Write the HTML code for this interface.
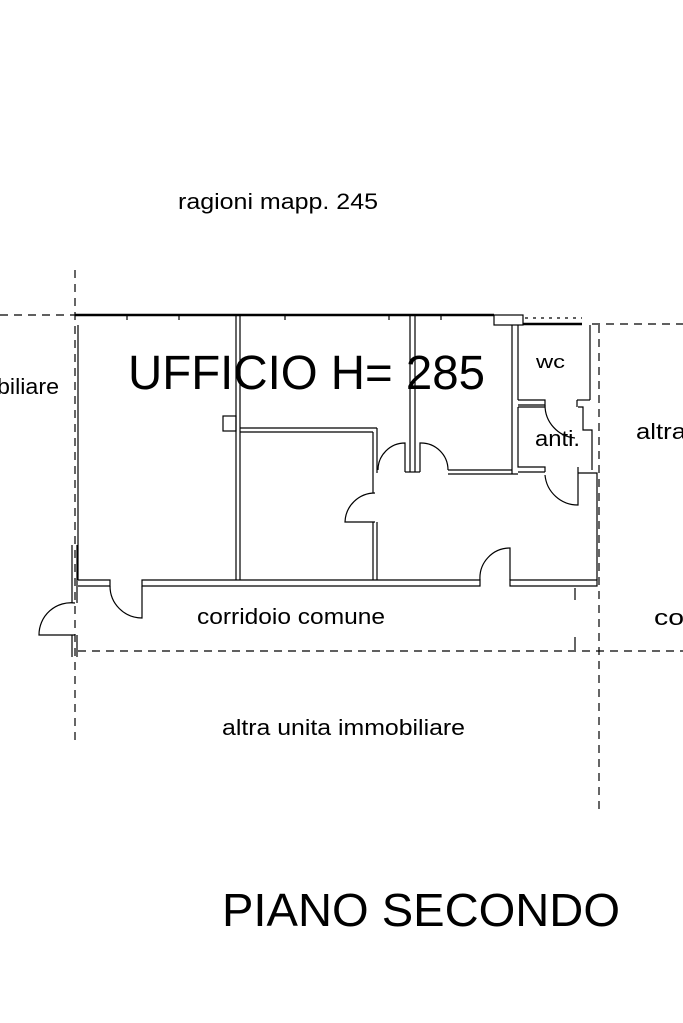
<!DOCTYPE html>
<html><head><style>
html,body{margin:0;padding:0;background:#fff;}
svg{display:block;}
text{font-family:"Liberation Sans",sans-serif;fill:#000;}
</style></head><body>
<svg width="683" height="1023" viewBox="0 0 683 1023" xmlns="http://www.w3.org/2000/svg">
<g fill="none" stroke="#000" stroke-width="1.2">
<g stroke-dasharray="8,6">
<line x1="0" y1="315" x2="75" y2="315"/>
<line x1="592" y1="324" x2="683" y2="324"/>
<line x1="75" y1="270" x2="75" y2="740"/>
<line x1="599" y1="325" x2="599" y2="810"/>
<line x1="78" y1="651" x2="683" y2="651"/>
<line x1="525" y1="318" x2="582" y2="318" stroke-dasharray="3,5"/>
</g>
<line x1="75" y1="315" x2="494" y2="315" stroke-width="2.5"/>
<g stroke-width="1.2">
<line x1="127" y1="315" x2="127" y2="320"/><line x1="179" y1="315" x2="179" y2="320"/>
<line x1="285" y1="315" x2="285" y2="320"/><line x1="389" y1="315" x2="389" y2="320"/>
<line x1="441" y1="315" x2="441" y2="320"/>
</g>
<rect x="494" y="315" width="29" height="10"/>
<line x1="523" y1="324" x2="582" y2="324" stroke-width="2.5"/>
<line x1="78" y1="325" x2="78" y2="580"/>
<line x1="72" y1="545" x2="72" y2="603"/><line x1="77" y1="545" x2="77" y2="603"/>
<line x1="72" y1="635" x2="72" y2="657"/><line x1="77" y1="635" x2="77" y2="657"/>
<path d="M75 603 A32 32 0 0 0 39 635 L75 635"/>
<path d="M78 580 H110 V586 H78"/>
<path d="M142 580 H480 V586 H142 Z"/>
<path d="M110 586 A32 32 0 0 0 142 618 V586"/>
<path d="M510 580 H597 V586 H510 Z"/>
<path d="M480 580 A30 30 0 0 1 510 548 V580"/>
<line x1="575" y1="588" x2="575" y2="600"/><line x1="575" y1="637" x2="575" y2="650"/>
<line x1="236" y1="315" x2="236" y2="580"/><line x1="240" y1="315" x2="240" y2="580"/>
<rect x="223" y="416" width="13" height="15"/>
<line x1="240" y1="428" x2="377" y2="428"/><line x1="240" y1="432" x2="373" y2="432"/>
<line x1="373" y1="432" x2="373" y2="493"/><line x1="377" y1="428" x2="377" y2="473"/>
<line x1="373" y1="522" x2="373" y2="580"/><line x1="377" y1="522" x2="377" y2="580"/>
<path d="M375 493 A30 30 0 0 0 345 522 H375"/>
<line x1="410" y1="315" x2="410" y2="472"/><line x1="415" y1="315" x2="415" y2="472"/>
<line x1="405" y1="472" x2="420" y2="472"/>
<path d="M405 472 V443 A27 27 0 0 0 378 470"/>
<path d="M420 472 V443 A27 27 0 0 1 448 470"/>
<line x1="448" y1="470" x2="512" y2="470"/><line x1="448" y1="474" x2="518" y2="474"/>
<line x1="512" y1="325" x2="512" y2="474"/><line x1="518" y1="325" x2="518" y2="400"/>
<line x1="590" y1="325" x2="590" y2="400"/>
<path d="M518 400 H545 V405 H518"/>
<path d="M577 400 H590"/><path d="M577 400 V407"/>
<path d="M518 407 H545 M518 407 V467 H545 V472"/>
<path d="M545 405 A33 33 0 0 0 575 438"/>
<path d="M578 407 H583 V430 H592 V470"/>
<path d="M518 472 H545"/>
<path d="M545 475 A33 33 0 0 0 578 505 V467"/>
<path d="M578 473 H597 V580"/>
</g>
<text x="178" y="209" font-size="22" textLength="200" lengthAdjust="spacingAndGlyphs">ragioni mapp. 245</text>
<text x="128" y="389" font-size="48" textLength="357" lengthAdjust="spacingAndGlyphs">UFFICIO H= 285</text>
<text x="-3" y="394" font-size="22" textLength="62" lengthAdjust="spacingAndGlyphs">biliare</text>
<text x="536" y="368" font-size="18" textLength="29" lengthAdjust="spacingAndGlyphs">wc</text>
<text x="535" y="446" font-size="22" textLength="45" lengthAdjust="spacingAndGlyphs">anti.</text>
<text x="636" y="439" font-size="22" textLength="50" lengthAdjust="spacingAndGlyphs">altra</text>
<text x="197" y="624" font-size="22" textLength="188" lengthAdjust="spacingAndGlyphs">corridoio comune</text>
<text x="654" y="625" font-size="22" textLength="30" lengthAdjust="spacingAndGlyphs">co</text>
<text x="222" y="735" font-size="22" textLength="243" lengthAdjust="spacingAndGlyphs">altra unita immobiliare</text>
<text x="222" y="926" font-size="46" textLength="398" lengthAdjust="spacingAndGlyphs">PIANO SECONDO</text>
</svg>
</body></html>
